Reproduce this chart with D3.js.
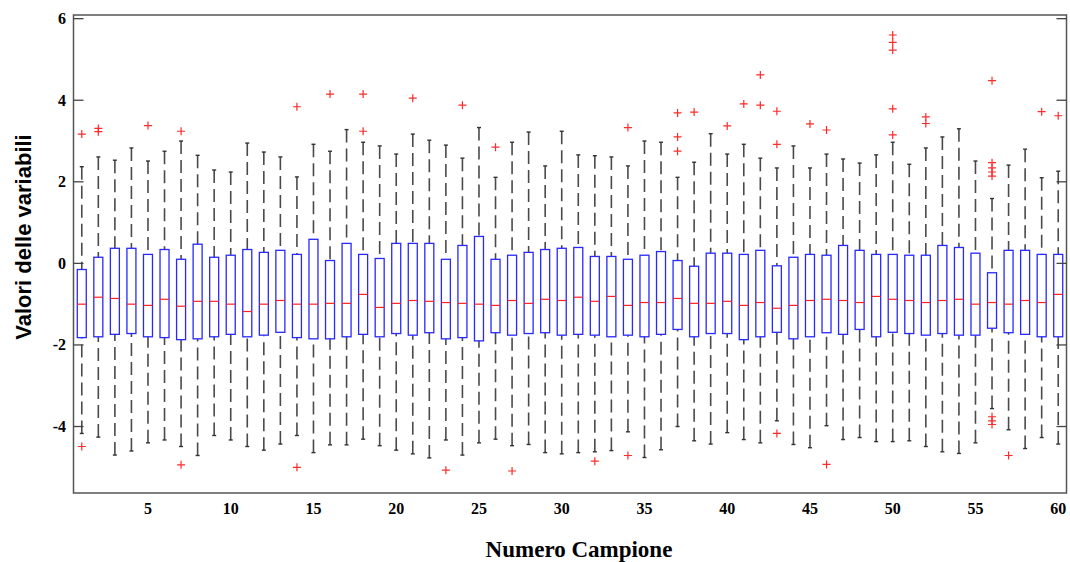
<!DOCTYPE html>
<html>
<head>
  <meta charset="utf-8">
  <title>boxplot campioni</title>
  <script src="https://cdnjs.cloudflare.com/ajax/libs/d3/7.8.5/d3.min.js"></script>
</head>
<style>
  body { margin: 0; background: #fff; }
  svg { display: block; }
</style>
<body>
<svg id="svg" width="1070" height="562"></svg>
<script type="text/javascript">

// valori, campioni 1..60
const q3 = [-0.15, 0.15, 0.37, 0.37, 0.22, 0.34, 0.10, 0.47, 0.15, 0.20,
            0.34, 0.27, 0.32, 0.22, 0.59, 0.07, 0.49, 0.22, 0.12, 0.49,
            0.49, 0.49, 0.10, 0.44, 0.66, 0.10, 0.20, 0.27, 0.34, 0.37,
            0.39, 0.17, 0.17, 0.10, 0.20, 0.29, 0.07, -0.07, 0.25, 0.25,
            0.22, 0.32, -0.06, 0.15, 0.22, 0.20, 0.44, 0.32, 0.22, 0.22,
            0.20, 0.20, 0.44, 0.39, 0.25, -0.23, 0.32, 0.32, 0.22, 0.22];
const med = [-1.00, -0.83, -0.86, -1.00, -1.03, -0.88, -1.05, -0.93, -0.93, -1.00,
             -1.18, -1.00, -0.91, -1.00, -1.00, -0.98, -0.98, -0.76, -1.08, -0.98,
             -0.91, -0.93, -0.96, -0.98, -1.00, -1.03, -0.91, -0.98, -0.88, -0.91,
             -0.83, -0.93, -0.81, -1.03, -0.96, -0.96, -0.86, -0.98, -0.98, -0.93,
             -1.03, -0.96, -1.10, -1.03, -0.91, -0.88, -0.91, -0.96, -0.81, -0.88,
             -0.91, -0.96, -0.91, -0.88, -1.00, -0.96, -1.00, -0.91, -0.96, -0.76];
const q1 = [-1.82, -1.80, -1.74, -1.72, -1.80, -1.82, -1.87, -1.85, -1.80, -1.74,
            -1.80, -1.76, -1.69, -1.82, -1.85, -1.85, -1.80, -1.74, -1.80, -1.72,
            -1.76, -1.70, -1.85, -1.82, -1.90, -1.70, -1.76, -1.72, -1.70, -1.76,
            -1.74, -1.76, -1.80, -1.76, -1.80, -1.74, -1.62, -1.80, -1.72, -1.72,
            -1.87, -1.80, -1.69, -1.85, -1.80, -1.70, -1.74, -1.62, -1.80, -1.69,
            -1.72, -1.76, -1.72, -1.76, -1.76, -1.59, -1.70, -1.74, -1.80, -1.80];
const whiskHi = [2.37, 2.61, 2.53, 2.83, 2.51, 2.75, 3.00, 2.65, 2.29, 2.24,
                 2.95, 2.73, 2.61, 2.12, 2.92, 2.75, 3.28, 2.97, 2.88, 2.68,
                 3.17, 3.02, 2.90, 2.58, 3.33, 2.11, 2.97, 3.22, 2.39, 3.24,
                 2.66, 2.64, 2.61, 2.39, 3.00, 2.97, 2.11, 2.48, 3.18, 2.68,
                 2.92, 2.58, 2.34, 2.88, 2.34, 2.68, 2.56, 2.46, 2.66, 2.97,
                 2.43, 2.83, 3.10, 3.30, 2.51, 1.59, 2.41, 2.80, 2.10, 2.26];
const whiskLo = [-4.17, -4.26, -4.70, -4.60, -4.40, -4.33, -4.49, -4.71, -4.22, -4.33,
                 -4.49, -4.58, -4.43, -4.22, -4.64, -4.45, -4.45, -4.31, -4.47, -4.58,
                 -4.67, -4.77, -4.33, -4.70, -4.40, -4.31, -4.47, -4.44, -4.64, -4.67,
                 -4.64, -4.62, -4.59, -4.13, -4.76, -4.57, -4.00, -4.35, -4.43, -4.15,
                 -4.32, -4.40, -3.86, -4.44, -4.52, -3.98, -4.32, -4.27, -4.37, -4.37,
                 -4.35, -4.49, -4.62, -4.66, -4.40, -3.56, -4.08, -4.54, -4.27, -4.43];
// outlier: [campione, valore]
const outliers = [
  [1, 3.17], [1, -4.49], [2, 3.31], [2, 3.23], [5, 3.38], [7, 3.24], [7, -4.94],
  [14, 3.84], [14, -5.00], [16, 4.15], [18, 4.15], [18, 3.24], [21, 4.05],
  [23, -5.07], [24, 3.88], [26, 2.85], [27, -5.09], [32, -4.85], [34, 3.33],
  [34, -4.71], [37, 3.69], [37, 3.10], [37, 2.75], [38, 3.71], [40, 3.37],
  [41, 3.91], [42, 4.62], [42, 3.88], [43, 3.73], [43, 2.92], [43, -4.17],
  [45, 3.42], [46, 3.27], [46, -4.93], [50, 5.60], [50, 5.42], [50, 5.23],
  [50, 3.79], [50, 3.15], [52, 3.59], [52, 3.43], [56, 4.48], [56, 2.47],
  [56, 2.34], [56, 2.24], [56, 2.14], [56, -3.76], [56, -3.86], [56, -3.95],
  [57, -4.71], [59, 3.72], [60, 3.62]
];
const xTicks = [5, 10, 15, 20, 25, 30, 35, 40, 45, 50, 55, 60];
const yTicks = [-4, -2, 0, 2, 4, 6];

const svg = d3.select('#svg');
const pLeft = 73.5, pRight = 1066.5, pTop = 15, pBottom = 493;

const x = d3.scaleLinear().domain([0.5, 60.5]).range([pLeft, pRight]);
const y = d3.scaleLinear().domain([-5.63, 6.09]).range([pBottom, pTop]);

const boxes = d3.range(60).map(i => ({
  n: i + 1, q1: q1[i], med: med[i], q3: q3[i], lo: whiskLo[i], hi: whiskHi[i]
}));

const halfW = 4.5;
const capW = 2;

const g = svg.append('g');

// baffi tratteggiati
g.selectAll('line.wUp').data(boxes).enter().append('line')
  .attr('x1', d => x(d.n)).attr('x2', d => x(d.n))
  .attr('y1', d => y(d.hi)).attr('y2', d => y(d.q3))
  .attr('stroke', '#4a4a4a').attr('stroke-width', 1.6)
  .attr('stroke-dasharray', '13,6');
g.selectAll('line.wDn').data(boxes).enter().append('line')
  .attr('x1', d => x(d.n)).attr('x2', d => x(d.n))
  .attr('y1', d => y(d.lo)).attr('y2', d => y(d.q1))
  .attr('stroke', '#4a4a4a').attr('stroke-width', 1.6)
  .attr('stroke-dasharray', '13,6');

// cappucci
['hi', 'lo'].forEach(k => {
  g.selectAll('line.cap' + k).data(boxes).enter().append('line')
    .attr('x1', d => x(d.n) - capW).attr('x2', d => x(d.n) + capW)
    .attr('y1', d => y(d[k])).attr('y2', d => y(d[k]))
    .attr('stroke', '#333').attr('stroke-width', 1.4);
});

// scatole
g.selectAll('rect.box').data(boxes).enter().append('rect')
  .attr('x', d => x(d.n) - halfW).attr('width', halfW * 2)
  .attr('y', d => y(d.q3)).attr('height', d => y(d.q1) - y(d.q3))
  .attr('fill', 'none').attr('stroke', '#2828ff').attr('stroke-width', 1.3);

// mediane
g.selectAll('line.med').data(boxes).enter().append('line')
  .attr('x1', d => x(d.n) - halfW).attr('x2', d => x(d.n) + halfW)
  .attr('y1', d => y(d.med)).attr('y2', d => y(d.med))
  .attr('stroke', '#ff2020').attr('stroke-width', 1.2);

// outlier come croci
g.selectAll('path.out').data(outliers).enter().append('path')
  .attr('transform', d => `translate(${x(d[0])},${y(d[1])})`)
  .attr('d', 'M-4,0H4M0,-4V4')
  .attr('stroke', '#ff2a2a').attr('stroke-width', 1.2).attr('fill', 'none');

// cornice
svg.append('rect')
  .attr('x', pLeft).attr('y', pTop)
  .attr('width', pRight - pLeft).attr('height', pBottom - pTop)
  .attr('fill', 'none').attr('stroke', '#555').attr('stroke-width', 1.5);

// tacche asse y (dentro, a sinistra e a destra)
svg.selectAll('line.tl').data(yTicks).enter().append('line')
  .attr('x1', pLeft).attr('x2', pLeft + 10)
  .attr('y1', d => y(d)).attr('y2', d => y(d))
  .attr('stroke', '#444').attr('stroke-width', 1.3);
svg.selectAll('line.tr').data(yTicks).enter().append('line')
  .attr('x1', pRight - 10).attr('x2', pRight)
  .attr('y1', d => y(d)).attr('y2', d => y(d))
  .attr('stroke', '#444').attr('stroke-width', 1.3);

svg.selectAll('text.yt').data(yTicks).enter().append('text')
  .attr('x', 66).attr('y', d => y(d) + 5.5)
  .attr('text-anchor', 'end')
  .style('font-family', '"Liberation Serif", serif')
  .style('font-weight', 'bold').style('font-size', '16px')
  .text(d => d);

svg.selectAll('text.xt').data(xTicks).enter().append('text')
  .attr('x', d => x(d)).attr('y', 514)
  .attr('text-anchor', 'middle')
  .style('font-family', '"Liberation Serif", serif')
  .style('font-weight', 'bold').style('font-size', '16px')
  .text(d => d);

svg.append('text')
  .attr('x', 579).attr('y', 557)
  .attr('text-anchor', 'middle')
  .style('font-family', '"Liberation Serif", serif')
  .style('font-weight', 'bold').style('font-size', '23px')
  .text('Numero Campione');

svg.append('text')
  .attr('transform', 'translate(31,237) rotate(-90)')
  .attr('text-anchor', 'middle')
  .style('font-family', '"Liberation Sans", Arial, sans-serif')
  .style('font-weight', 'bold').style('font-size', '22px')
  .text('Valori delle variabili');

</script>
</body>
</html>
